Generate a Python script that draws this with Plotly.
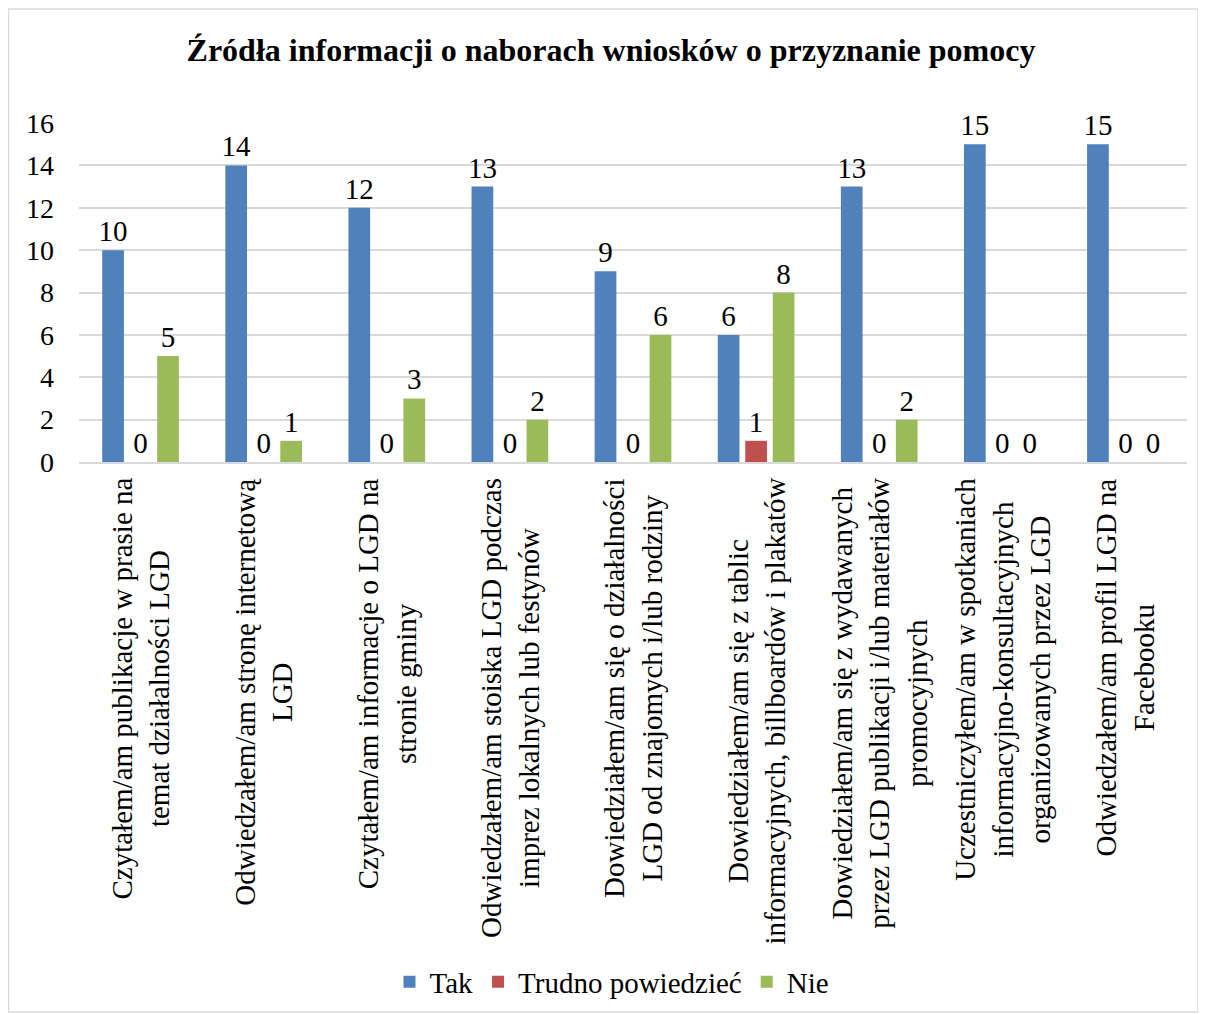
import plotly.graph_objects as go

categories = [
    "Czytałem/am publikacje w prasie na<br>temat działalności LGD",
    "Odwiedzałem/am stronę internetową<br>LGD",
    "Czytałem/am informacje o LGD na<br>stronie gminy",
    "Odwiedzałem/am stoiska LGD podczas<br>imprez lokalnych lub festynów",
    "Dowiedziałem/am się o działalności<br>LGD od znajomych i/lub rodziny",
    "Dowiedziałem/am się z tablic<br>informacyjnych, billboardów i plakatów",
    "Dowiedziałem/am się z wydawanych<br>przez LGD publikacji i/lub materiałów<br>promocyjnych",
    "Uczestniczyłem/am w spotkaniach<br>informacyjno-konsultacyjnych<br>organizowanych przez LGD",
    "Odwiedzałem/am profil LGD na<br>Facebooku",
]
tak = [10, 14, 12, 13, 9, 6, 13, 15, 15]
trudno = [0, 0, 0, 0, 0, 1, 0, 0, 0]
nie = [5, 1, 3, 2, 6, 8, 2, 0, 0]
y_ticks = [0, 2, 4, 6, 8, 10, 12, 14, 16]

FONT = "Liberation Serif"
OFF = 8  # default page body margin
W, H = 1206 - OFF, 1014 - OFF
L, T = 79 - OFF, 123 - OFF
R = W - (1187 - OFF)
B = H - (462 - OFF)

fig = go.Figure()
for name, vals, color in [("Tak", tak, "#4F81BD"),
                          ("Trudno powiedzieć", trudno, "#C0504D"),
                          ("Nie", nie, "#9BBB59")]:
    fig.add_trace(go.Bar(
        name=name, x=categories, y=vals, marker_color=color,
        marker_line_width=0,
        text=[str(v) for v in vals], textposition="outside",
        constraintext="none",
        textfont=dict(family=FONT, size=29, color="#000000"),
        cliponaxis=False,
    ))

for c in categories:
    fig.add_annotation(
        x=c, xref="x", y=0, yref="paper", yanchor="top", xanchor="center",
        yshift=-14, text=c, textangle=-90, align="center", showarrow=False,
        font=dict(family=FONT, size=29, color="#000000"),
    )

pw = W - L - R
ph = H - T - B
fig.add_shape(type="rect", xref="paper", yref="paper",
              x0=(0.5 - L) / pw, x1=(1190 - L) / pw,
              y0=(H - B - 1004) / ph, y1=(H - B - 1) / ph,
              line=dict(color="#D9D9D9", width=1.5), fillcolor="rgba(0,0,0,0)",
              layer="below")

fig.update_layout(
    width=W, height=H,
    margin=dict(l=L, r=R, t=T, b=B, autoexpand=False),
    paper_bgcolor="white", plot_bgcolor="white",
    barmode="group", bargap=0.33, bargroupgap=0.21,
    uniformtext=dict(mode=False),
    title=dict(text="<b>Źródła informacji o naborach wniosków o przyznanie pomocy</b>",
               font=dict(family=FONT, size=32, color="#000000"),
               x=603 / W, xref="container", xanchor="center",
               y=1 - 42 / H, yref="container", yanchor="middle"),
    font=dict(family=FONT, size=29, color="#000000"),
    showlegend=True,
    legend=dict(orientation="h", xref="container", yref="container",
                x=604 / W, xanchor="center", y=1 - 974 / H, yanchor="middle",
                font=dict(family=FONT, size=29, color="#000000"),
                itemwidth=30, traceorder="normal"),
    xaxis=dict(showticklabels=False, showline=True, linecolor="#D9D9D9",
               linewidth=1.5, ticks="", showgrid=False),
    yaxis=dict(range=[0, 16], tickvals=y_ticks, showgrid=True,
               gridcolor="#D9D9D9", gridwidth=1.5, zeroline=False,
               showline=False, ticks="", ticklabelstandoff=24,
               tickfont=dict(family=FONT, size=28, color="#000000")),
)

fig.write_html("out.html")
